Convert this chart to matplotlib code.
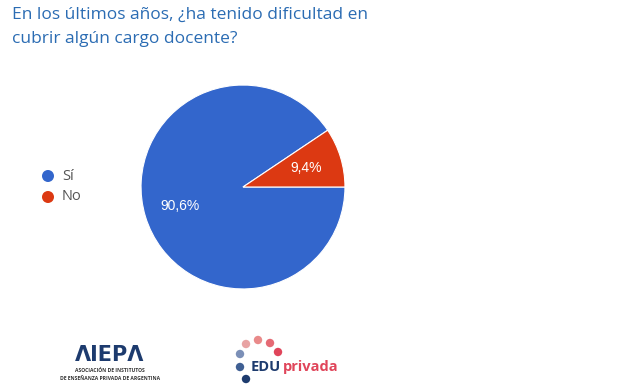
import matplotlib.pyplot as plt
from matplotlib.patches import Circle

labels = ['Sí', 'No']
values = [90.6, 9.4]
colors = ['#3366cc', '#dc3912']
title = 'En los últimos años, ¿ha tenido dificultad en\ncubrir algún cargo docente?'

plt.rcParams['font.family'] = ['Open Sans', 'DejaVu Sans']

W, H = 638, 391
fig = plt.figure(figsize=(W / 100, H / 100), dpi=100)
fig.patch.set_facecolor('white')

# overlay in pixel units for legend and logos
ov = fig.add_axes([0, 0, 1, 1])
ov.set_xlim(0, W)
ov.set_ylim(H, 0)
ov.axis('off')

# pie axes: center ~ (243, 187), radius ~102 px
ax = fig.add_axes([(243 - 104) / W, 1 - (187 + 104) / H, 208 / W, 208 / H])
start = 360 * values[1] / sum(values)
wedges, texts, autotexts = ax.pie(
    values, colors=colors, startangle=start, counterclock=True,
    autopct=lambda p: f'{p:.1f}%'.replace('.', ','), pctdistance=0.65,
    wedgeprops=dict(edgecolor='white', linewidth=0.8),
    textprops=dict(color='white', fontsize=10, family=['Liberation Sans', 'DejaVu Sans']))
ax.set_aspect('equal')
ax.set_xlim(-1.02, 1.02)
ax.set_ylim(-1.02, 1.02)

ov.text(12, 7, title, ha='left', va='top', fontsize=12.5, color='#2b6cb3', linespacing=1.65)

# legend
for i, (lab, col) in enumerate(zip(labels, colors)):
    y = 176 + 21 * i
    ov.add_patch(Circle((48, y), 6, facecolor=col, edgecolor='none'))
    ov.text(62, y, lab, ha='left', va='center', fontsize=10.5, color='#555555')

# logos (approximated with text)
navy = '#1d3b6e'
ov.text(110, 355, 'ΛIEPΛ', ha='center', va='center', fontsize=15,
        color=navy, fontweight='bold', family=['DejaVu Sans'])
ov.text(110, 370, 'ASOCIACIÓN DE INSTITUTOS', ha='center', va='center',
        fontsize=3.6, color='#333333', fontweight='bold')
ov.text(110, 378, 'DE ENSEÑANZA PRIVADA DE ARGENTINA', ha='center',
        va='center', fontsize=3.6, color='#333333', fontweight='bold')

dots = [(246, 379, '#1d3b6e'), (240, 367, '#3f5f93'), (240, 354, '#7b8fb7'),
        (246, 344, '#e8a3a3'), (258, 340, '#e98a8a'), (270, 343, '#e56a74'),
        (278, 352, '#e0455a')]
for x, y, c in dots:
    ov.add_patch(Circle((x, y), 4.2, facecolor=c, edgecolor='none'))
ov.text(251, 367, 'EDU', ha='left', va='center', fontsize=10.5,
        color=navy, fontweight='bold')
ov.text(283, 367, 'privada', ha='left', va='center', fontsize=10.5,
        color='#e0455a', fontweight='bold')

plt.savefig('out.png', dpi=100)
plt.close()
